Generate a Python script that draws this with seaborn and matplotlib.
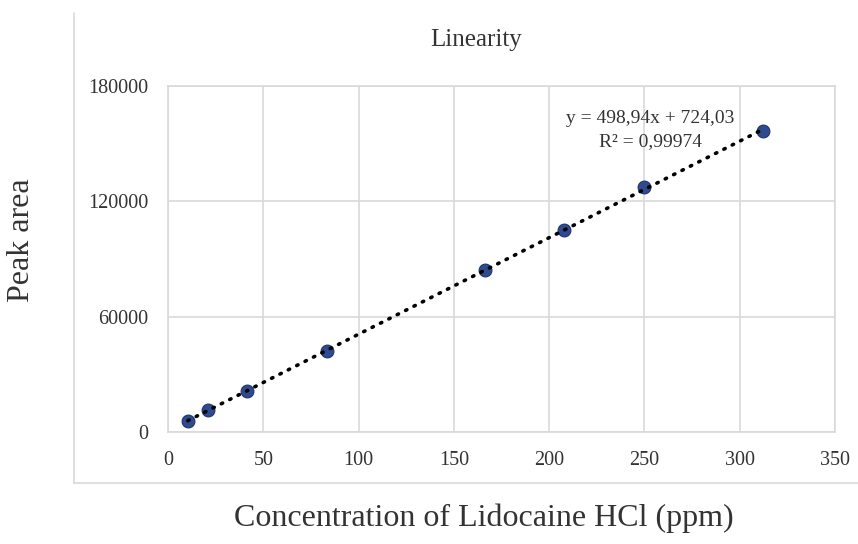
import numpy as np
import pandas as pd
import matplotlib
matplotlib.use("Agg")
import matplotlib.pyplot as plt
import seaborn as sns
from matplotlib.lines import Line2D

concentration = [10.4, 20.8, 41.6, 83.2, 166.4, 208.0, 249.6, 312.0]
peak_area = [5600, 11500, 21300, 42300, 84200, 105000, 127200, 156500]
x_ticks = [0, 50, 100, 150, 200, 250, 300, 350]
y_ticks = [0, 60000, 120000, 180000]
equation_text = "y = 498,94x + 724,03"
r2_text = "R² = 0,99974"

df = pd.DataFrame({"conc": concentration, "area": peak_area})

sns.set_theme(style="white")
plt.rcParams["font.family"] = ["Liberation Serif", "DejaVu Serif"]

fig = plt.figure(figsize=(8.58, 5.44), dpi=100)
ax = fig.add_axes([168/858, 1-432/544, (835-168)/858, (432-86)/544])

# trendline from fit
slope, intercept = np.polyfit(df["conc"], df["area"], 1)
xs = np.array([df["conc"].min(), df["conc"].max()])
trend = pd.DataFrame({"x": xs, "y": slope*xs + intercept})
sns.lineplot(data=trend, x="x", y="y", ax=ax, color="black", lw=2.6,
             linestyle=(0, (0.4, 2.2)), dash_capstyle="round", zorder=4)

sns.scatterplot(data=df, x="conc", y="area", ax=ax, s=85, color="#2d4b8e",
                edgecolor="#1f3470", linewidth=0.8, zorder=3)

ax.set_xlim(0, 350)
ax.set_ylim(0, 180000)
ax.set_xticks(x_ticks)
ax.set_yticks(y_ticks)
ax.set_xticklabels([str(v) for v in x_ticks])
ax.set_yticklabels([str(v) for v in y_ticks])
ax.grid(True, color="#d9d9d9", lw=1.2)
ax.set_axisbelow(True)
for s in ax.spines.values():
    s.set_color("#d9d9d9")
    s.set_linewidth(1.2)
ax.tick_params(axis="both", length=0, labelsize=14.5, labelcolor="#333333")
ax.tick_params(axis="y", pad=14)
ax.tick_params(axis="x", pad=14)
ax.set_xlabel("")
ax.set_ylabel("")

ax.text(253, 163300, equation_text, ha="center", va="center", fontsize=14, color="#333333")
ax.text(253, 150900, r2_text, ha="center", va="center", fontsize=14, color="#333333")

fig.text(476/858, 1-40/544, "Linearity", ha="center", va="center", fontsize=18, color="#333333")
fig.text(22/858, 1-240/544, "Peak area", ha="center", va="center", rotation=90, fontsize=23, color="#333333")
fig.text(484/858, 1-518/544, "Concentration of Lidocaine HCl (ppm)", ha="center", va="center", fontsize=23, color="#333333")

# outer chart frame (left and bottom edges visible)
fig.add_artist(Line2D([74/858, 74/858], [1-483/544, 1-13/544], color="#d9d9d9", lw=1.2, transform=fig.transFigure))
fig.add_artist(Line2D([74/858, 1.0], [1-483/544, 1-483/544], color="#d9d9d9", lw=1.2, transform=fig.transFigure))

fig.savefig("out.png", dpi=100, facecolor="white")
